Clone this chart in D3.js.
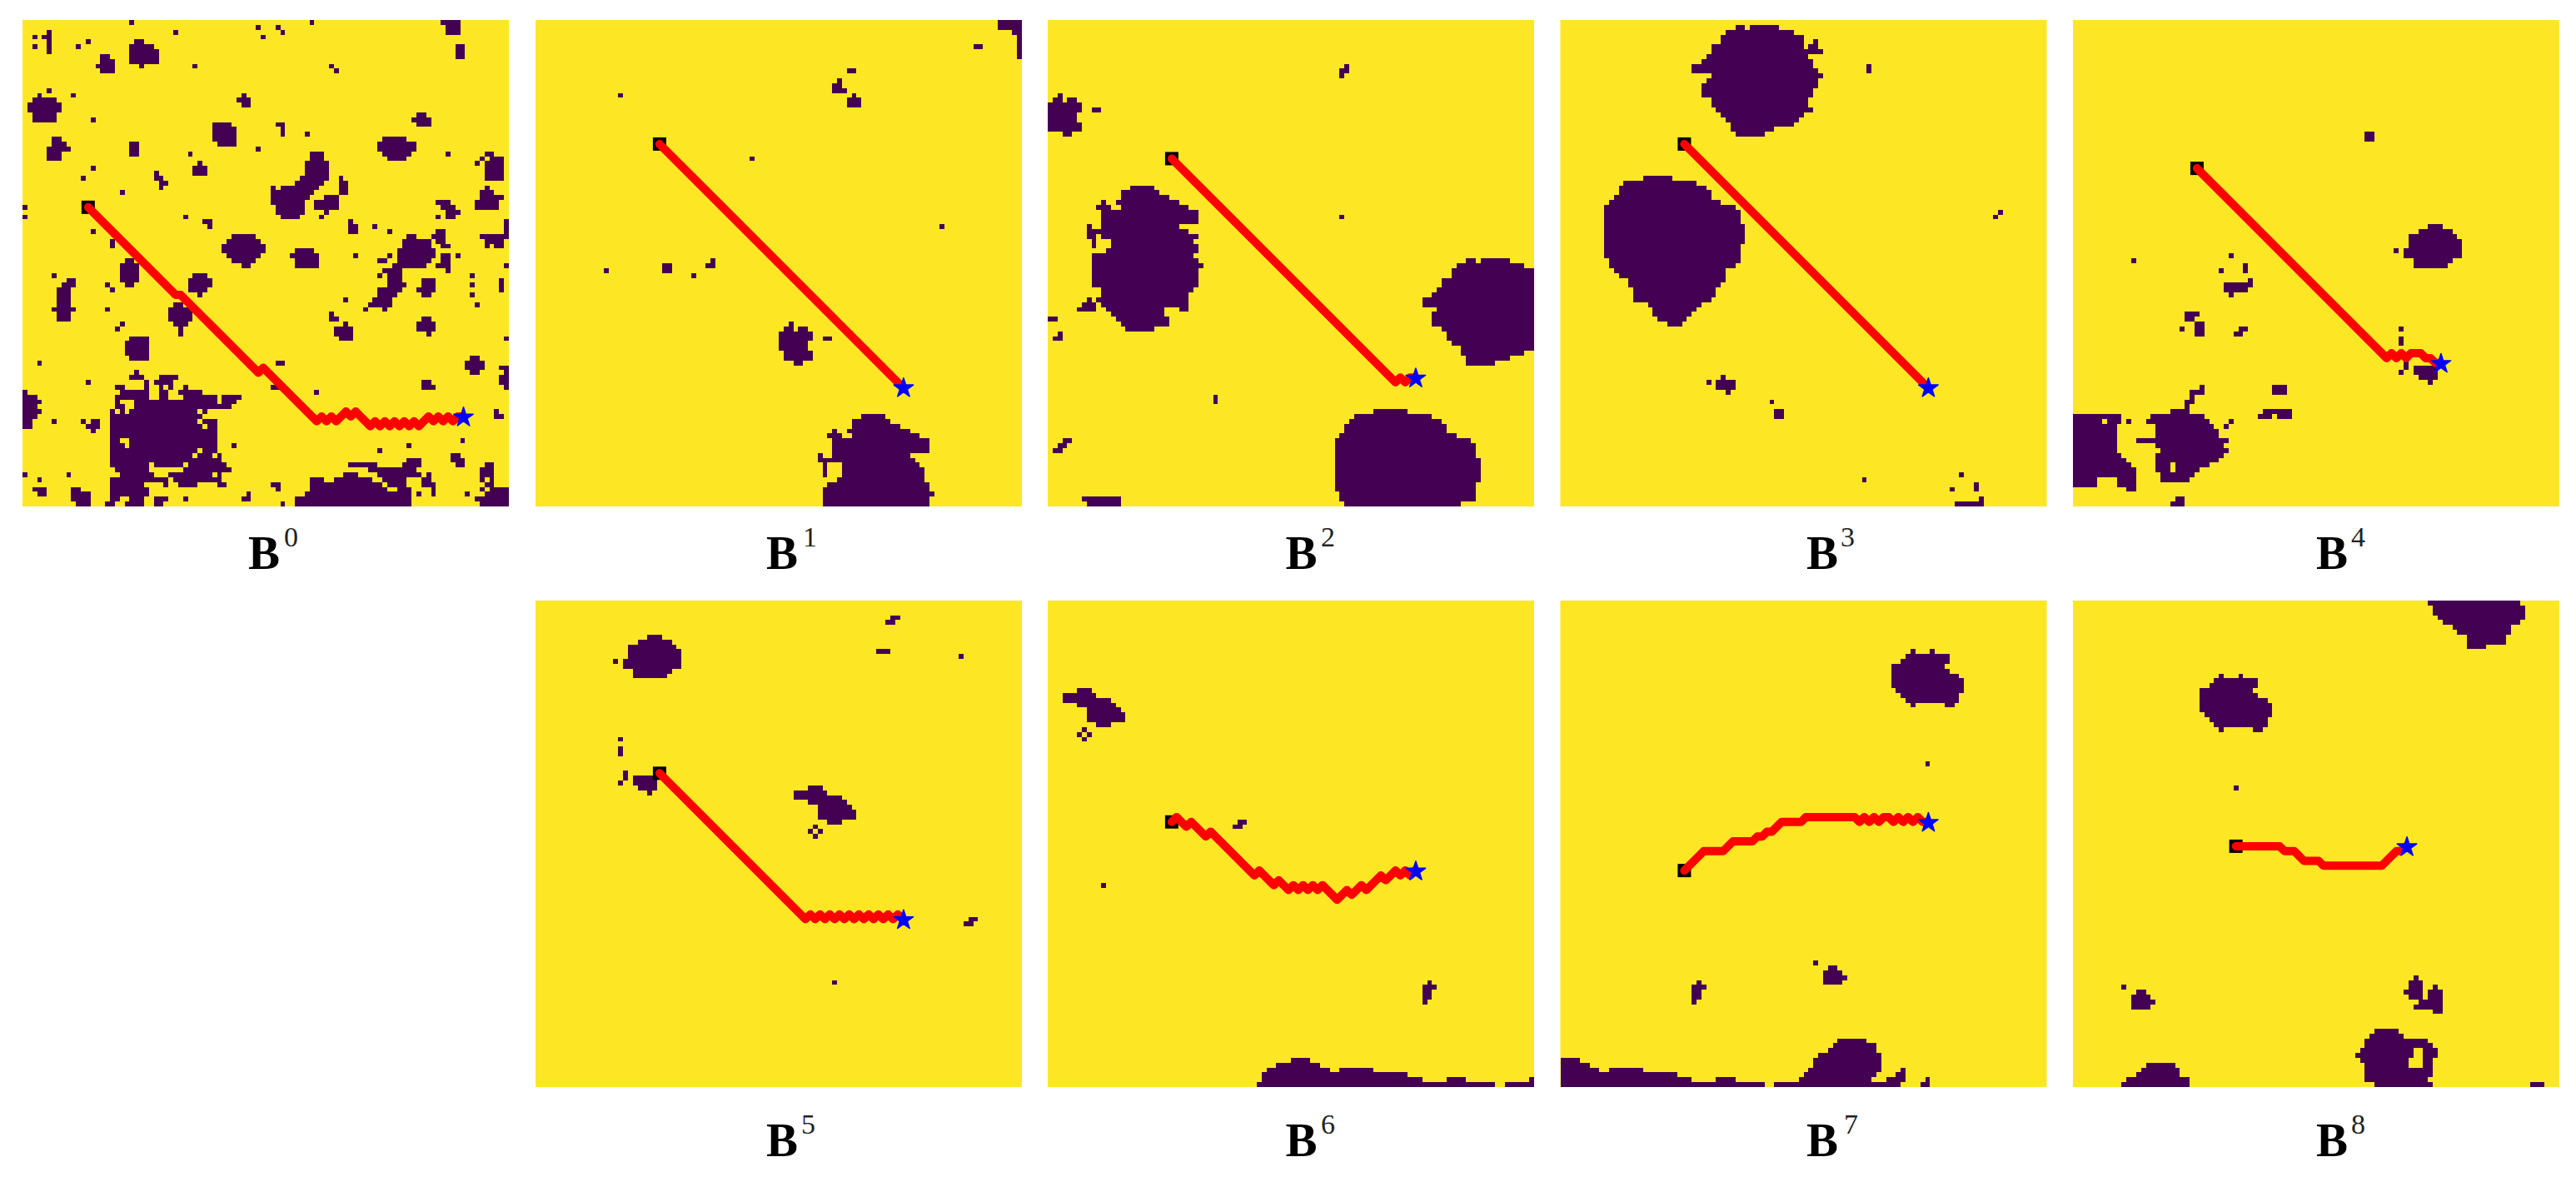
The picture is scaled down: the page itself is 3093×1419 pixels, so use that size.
<!DOCTYPE html>
<html><head><meta charset="utf-8">
<script src="https://cdn.jsdelivr.net/npm/d3@7"></script>
<style>html,body{margin:0;padding:0;background:#fff}svg{display:block}</style>
</head><body><svg id="c" width="3093" height="1419"></svg>
<script>
// Obstacle cells: [row, firstCol, lastCol] on a 100 x 100 grid. Route: [col, row].
const runsB0 = [
[0,22,22],[2,31,31],[1,48,48],[3,49,49],[1,52,52],[2,53,53],[0,59,59],[0,86,89],[1,87,89],[2,87,89],[5,89,90],[6,89,90],[7,89,90],
[3,2,2],[5,2,2],[2,5,5],[3,5,5],[4,5,5],[5,5,5],[6,5,5],[3,4,4],[5,11,11],[4,13,13],
[4,23,24],[5,22,26],[6,22,27],[7,22,27],[8,22,27],[9,24,24],[7,16,17],[8,16,18],[9,15,18],[10,16,18],
[9,35,35],[9,63,63],[10,64,64],[14,5,5],[15,10,10],[15,45,45],[16,44,46],[17,45,46],
[15,3,3],[16,2,6],[17,1,7],[18,1,7],[19,2,6],[20,2,6],[20,14,14],
[21,39,42],[22,39,43],[23,39,43],[24,39,43],[25,40,43],[24,6,7],[25,6,8],[26,5,9],[27,5,7],[28,5,7],
[25,22,23],[26,22,23],[27,22,23],[23,58,58],[26,48,48],[27,34,34],[29,36,36],[30,35,37],[31,35,37],
[30,14,14],[32,12,12],[31,27,27],[32,27,28],[33,28,29],[34,28,28],[35,20,20],
[38,0,0],[40,0,0],[40,33,33],[41,37,38],[42,38,38],[43,14,14],
[21,52,53],[22,53,53],[23,53,53],[19,81,82],[20,80,83],[21,81,83],[23,58,58],
[24,74,78],[25,73,80],[26,73,80],[27,74,79],[28,75,78],[27,87,87],
[27,95,96],[28,94,94],[28,96,98],[29,93,93],[29,95,98],[30,95,98],[31,95,98],[32,95,98],
[27,59,61],[28,59,61],[29,58,62],[30,58,62],[31,58,62],[32,57,62],[33,56,61],[34,51,51],[34,53,60],[35,51,59],[36,51,58],[37,51,57],[38,52,57],[39,52,57],[40,53,56],
[32,65,65],[33,65,66],[34,65,66],[35,65,66],[36,62,64],[37,60,64],[38,60,64],[39,62,62],[40,61,61],
[37,85,87],[38,86,88],[39,87,89],[40,87,88],[40,85,85],
[34,95,95],[35,94,96],[36,94,98],[37,93,97],[38,93,97],
[41,67,67],[42,67,68],[43,67,68],[42,72,72],[43,75,75],
[41,99,99],[42,99,99],[43,99,99],[44,94,99],[45,95,98],[46,95,95],[46,97,98],
[44,79,80],[45,78,83],[46,78,83],[47,77,84],[48,77,84],[49,77,83],[50,76,82],[51,74,77],[52,75,77],[52,73,73],[53,75,77],[54,75,78],[55,73,77],[56,73,76],[57,72,75],[58,71,75],[59,74,74],[59,70,70],
[49,73,74],[48,75,75],[43,85,86],[44,84,86],[45,85,86],[46,86,87],[48,86,87],[49,86,87],[50,85,87],[51,87,87],[48,89,89],[50,99,99],
[52,92,92],[54,92,92],[56,92,92],[58,93,93],[53,98,98],[54,98,98],[55,98,98],
[53,82,84],[54,82,84],[55,81,84],[56,82,83],[57,66,66],[60,63,63],[61,63,64],[62,66,66],[63,64,67],[64,64,67],[65,65,67],
[61,82,83],[62,81,84],[63,81,84],[64,83,83],
[47,56,59],[48,55,60],[49,56,60],[50,56,60],[48,68,68],
[44,43,47],[45,42,48],[46,41,49],[47,41,49],[48,42,48],[49,43,47],[50,45,46],
[45,18,18],[46,18,18],[49,21,22],[50,20,23],[51,20,23],[52,20,23],[53,20,23],[54,21,22],[52,6,6],
[53,9,10],[54,8,10],[55,7,9],[56,7,9],[57,7,9],[58,7,9],[59,6,10],[60,7,9],[61,7,9],[54,17,17],[55,18,18],[59,17,17],
[52,35,37],[53,34,38],[54,34,38],[55,34,37],[56,36,36],[58,31,32],[59,30,34],[60,30,34],[61,30,34],[62,31,33],[63,32,32],[62,20,20],[63,19,19],
[64,32,32],[65,22,25],[66,21,25],[67,21,25],[68,21,25],[69,22,25],[70,3,3],[74,13,13],
[72,23,23],[73,22,24],[73,28,31],[74,25,25],[74,27,30],[75,19,20],[75,25,25],[75,28,28],[75,30,30],[75,33,33],
[76,20,25],[76,28,29],[76,32,36],[77,19,25],[77,28,29],[77,33,39],[77,41,44],[78,19,19],[78,23,39],[78,41,43],[79,19,20],[79,23,42],
[80,18,18],[80,20,20],[80,22,35],[80,37,37],[81,18,36],[82,18,35],[82,37,39],[83,18,36],[83,38,39],[84,18,39],[85,18,39],
[86,18,19],[86,22,39],[87,18,20],[87,22,39],[88,18,35],[88,37,39],[89,18,34],[89,36,38],[89,40,40],[90,18,40],
[91,18,25],[91,27,32],[91,34,41],[92,19,25],[92,33,42],[93,20,26],[93,30,38],[93,40,40],[94,18,29],[94,31,40],
[95,18,24],[95,29,29],[95,32,35],[95,40,41],[96,18,25],[97,18,25],[98,18,19],[98,22,24],[98,27,29],[99,17,18],[99,21,24],[99,27,28],
[76,0,0],[77,0,2],[78,0,3],[79,0,2],[80,0,3],[81,0,2],[82,0,1],[83,0,1],[82,6,6],[82,12,12],[82,14,15],[83,13,15],[84,14,14],
[93,9,9],[93,0,0],[94,3,3],[96,2,4],[97,3,4],[96,10,11],[97,10,13],[98,10,13],[99,11,13],[98,33,33],[97,46,46],[98,45,46],[87,43,43],
[70,52,53],[75,51,52],[76,60,60],[65,99,99],[69,92,93],[70,91,94],[71,91,94],[72,92,93],[71,98,99],[72,99,99],[73,98,99],[74,98,99],[75,99,99],
[74,82,83],[75,82,84],[80,97,97],[81,97,98],[86,90,90],[87,79,79],[88,73,73],[89,88,89],[90,88,90],[91,89,90],
[90,79,81],[91,67,72],[91,78,81],[92,71,80],[93,66,68],[93,73,81],[94,59,61],[94,64,71],[94,74,78],[95,59,73],[95,75,78],[96,59,74],[96,77,79],[97,58,79],[98,56,79],[99,56,79],
[93,83,83],[94,82,83],[95,82,84],[96,84,84],[97,84,84],[95,51,52],[96,52,52],[97,81,81],[97,91,91],[99,53,53],
[91,95,96],[92,94,96],[93,94,96],[94,94,94],[94,96,96],[95,95,96],[96,94,94],[96,96,99],[97,95,99],[98,93,99],[99,94,99]
];
const runsB1 = [
[0,95,99],[1,95,99],[2,98,99],[3,99,99],[4,99,99],[5,99,99],[6,99,99],[7,99,99],[5,90,91],[10,64,65],[12,62,62],[13,61,62],[14,61,63],[15,65,65],[16,64,66],[17,64,66],
[15,17,17],[28,44,44],[42,83,83],[51,14,14],[50,26,27],[51,26,27],[52,32,32],[49,36,36],[50,35,36],
[62,52,52],[63,51,52],[63,54,55],[64,50,56],[65,50,56],[66,50,55],[67,50,55],[68,51,56],[69,51,56],[70,53,54],[65,59,60],
[81,67,71],[82,65,72],[83,65,74],[84,61,61],[84,64,76],[85,60,62],[85,65,78],[86,61,80],[87,61,80],[88,61,80],[89,58,58],[89,61,76],[90,58,77],
[91,59,59],[91,63,78],[92,59,59],[92,63,79],[93,59,59],[93,63,79],[94,62,79],[95,60,80],[96,59,80],[97,59,81],[98,59,80],[99,59,80]
];
const runsB2 = [
[15,2,2],[16,1,2],[16,4,5],[17,0,6],[18,0,6],[19,0,5],[20,0,5],[21,0,6],[22,0,6],[23,3,4],[18,9,10],
[9,61,61],[10,60,61],[11,60,60],[40,60,60],
[34,17,21],[35,15,22],[36,15,24],[37,11,11],[37,14,26],[38,10,12],[38,15,28],[39,11,30],[40,11,30],[41,11,30],[42,8,8],[42,11,26],[43,8,28],[44,8,9],[44,11,30],[45,9,9],[45,13,29],[46,9,9],[46,13,30],[47,12,30],[48,9,29],[49,9,30],[50,9,31],[51,9,30],[52,9,30],[53,9,30],[54,9,30],[55,11,29],[56,11,28],[57,8,8],[57,10,28],[58,7,9],[58,11,28],[59,6,9],[59,12,23],[59,27,28],[60,13,23],[61,14,24],[62,15,24],[63,16,21],
[61,0,1],[64,2,2],[65,1,2],[77,34,34],[78,34,34],[86,3,4],[87,2,3],[88,1,2],[98,7,14],[99,8,14],
[49,86,87],[49,89,94],[50,84,95],[50,96,97],[51,83,99],[52,83,99],[53,81,99],[54,81,99],[55,80,99],[56,79,99],[57,77,99],[58,77,99],[59,80,99],[60,79,99],[61,79,99],[62,79,99],[63,81,99],[64,82,99],[65,82,99],[66,83,99],[67,85,99],[68,85,97],[69,86,94],[70,86,91],
[80,67,73],[81,63,78],[82,62,80],[83,61,81],[84,61,81],[85,60,83],[86,59,86],[87,59,87],[88,59,87],[89,59,87],[90,59,88],[91,59,88],[92,59,88],[93,59,88],[94,59,88],[95,59,87],[96,59,87],[97,60,87],[98,60,87],[99,61,84]
];
const runsB3 = [
[1,36,37],[1,39,44],[2,34,47],[3,33,49],[4,33,49],[4,52,52],[5,31,49],[5,51,52],[6,31,53],[7,30,50],[8,29,51],[9,27,51],[10,27,52],[11,31,53],[12,30,52],[13,29,52],[14,29,51],[15,29,51],[16,31,50],[17,31,50],[18,32,51],[19,33,49],[20,34,48],[21,35,47],[22,35,43],[23,36,41],
[32,17,22],[33,13,27],[34,12,29],[35,12,30],[36,11,30],[37,10,32],[38,9,35],[39,9,36],[40,9,36],[41,9,36],[42,9,37],[43,9,37],[44,9,37],[45,9,37],[46,9,36],[47,9,36],[48,9,36],[49,10,36],[50,10,35],[51,11,33],[52,12,33],[53,14,33],[54,14,32],[55,15,31],[56,15,31],[57,15,30],[58,18,28],[59,19,27],[60,19,26],[61,20,25],[62,22,24],
[9,63,63],[10,63,63],[39,90,90],[40,89,89],[74,30,30],[73,33,33],[74,32,35],[75,32,35],[76,34,34],[78,43,43],[80,44,45],[81,44,45],[94,62,62],[93,82,82],[96,80,80],[95,85,85],[96,85,85],[98,86,86],[99,81,86]
];
const runsB4 = [
[23,60,61],[24,60,61],[42,73,75],[43,71,77],[44,69,78],[45,69,79],[46,69,79],[47,68,79],[48,68,79],[49,70,77],[50,70,76],[47,66,66],
[49,12,12],[48,32,32],[51,30,30],[50,35,35],[51,35,35],[53,36,36],[54,31,36],[55,31,35],[56,32,32],
[60,23,25],[61,23,24],[62,25,26],[63,25,26],[64,25,26],[63,22,22],[63,34,35],[64,33,34],
[63,67,67],[65,67,67],[66,67,67],[70,68,68],[71,68,68],[72,67,67],[71,70,74],[72,70,74],[73,71,74],[74,73,73],
[75,41,43],[76,41,43],[80,39,44],[81,38,40],[81,42,44],
[75,26,26],[76,24,26],[77,24,24],[78,23,24],[79,23,23],[80,20,23],[81,16,26],[82,15,27],[83,17,28],[84,17,29],[85,17,29],[86,13,31],[87,17,30],[88,18,31],[89,17,30],[90,17,29],[91,17,19],[91,21,27],[92,17,19],[92,21,25],[93,18,24],[94,18,23],
[98,21,22],[99,20,22],[82,11,11],[82,32,32],[83,31,31],
[81,0,9],[82,0,5],[82,7,9],[83,0,8],[84,0,8],[85,0,8],[86,0,8],[87,0,8],[88,0,8],[89,0,9],[90,0,10],[91,0,11],[92,0,12],[93,0,12],[94,0,4],[94,9,12],[95,0,4],[95,9,12],[96,11,12]
];
const runsB5 = [
[3,73,74],[4,72,73],[10,70,72],[11,87,87],[7,23,25],[8,21,27],[9,19,28],[10,19,29],[11,19,29],[12,18,29],[13,18,29],[14,20,27],[15,20,26],[12,16,16],
[28,17,17],[30,17,17],[31,17,17],[35,18,18],[36,18,18],[37,17,17],[36,20,24],[37,20,24],[38,21,24],[39,23,23],
[38,56,58],[39,53,59],[40,53,62],[41,56,63],[42,58,64],[43,58,65],[44,58,65],[45,60,62],[46,57,57],[47,56,56],[47,58,58],[48,57,57],[65,89,90],[66,88,89],[78,61,61]
];
const runsB6 = [
[18,6,8],[19,3,9],[20,3,12],[21,6,13],[22,8,14],[23,8,15],[24,8,15],[25,10,12],[26,7,7],[27,6,6],[27,8,8],[28,7,7],[45,39,40],[46,38,39],[58,11,11],
[78,78,78],[79,77,79],[80,77,78],[81,77,78],[82,77,77],
[94,50,53],[95,47,55],[96,45,57],[96,60,66],[97,44,73],[98,44,76],[98,82,85],[98,99,99],[99,43,91],[99,94,99]
];
const runsB7 = [
[10,72,72],[10,76,76],[11,71,79],[12,70,79],[13,68,78],[14,68,79],[15,68,81],[16,68,82],[17,68,82],[18,69,82],[19,70,81],[20,71,81],[21,72,72],[21,79,80],[33,75,75],
[74,52,52],[75,55,56],[76,54,57],[77,54,58],[78,54,57],[78,28,28],[79,27,29],[80,27,28],[81,27,28],[82,27,27],
[94,0,3],[95,0,5],[96,0,7],[96,10,16],[97,0,23],[98,0,26],[98,32,35],[99,0,41],[99,44,69],
[90,57,62],[91,56,64],[92,55,64],[93,53,65],[94,52,65],[95,52,65],[96,51,65],[96,70,70],[97,50,64],[97,69,70],[98,49,63],[98,67,70],[98,75,75],[99,74,75]
];
const runsB8 = [
[0,73,91],[1,74,92],[2,74,92],[3,75,92],[4,76,91],[5,78,89],[6,79,89],[7,81,88],[8,81,88],[9,81,84],
[15,30,30],[15,34,34],[16,29,37],[17,28,37],[18,26,36],[19,26,37],[20,26,39],[21,26,40],[22,26,40],[23,27,40],[24,28,39],[25,29,39],[26,30,30],[26,37,38],[38,33,33],
[79,10,10],[80,13,14],[81,12,15],[82,12,16],[83,12,15],
[77,70,70],[78,69,71],[79,69,71],[79,74,74],[80,68,71],[80,73,75],[81,69,71],[81,73,75],[82,71,75],[83,70,75],[84,74,75],
[88,62,66],[89,61,67],[90,60,72],[91,60,73],[92,59,69],[92,72,74],[93,58,69],[93,72,74],[94,59,68],[94,72,73],[95,60,68],[95,72,73],[96,60,73],[97,60,73],[98,60,72],[99,62,73],
[95,15,20],[96,14,21],[97,13,21],[98,11,23],[99,10,23],[99,94,96]
];

const routeB0 = [[13,38],[31,56],[32,56],[48,72],[49,71],[60,82],[61,81],[62,82],[63,81],[64,82],[65,81],[66,80],[67,81],[68,80],[69,81],[70,82],[71,83],[72,82],[73,83],[74,82],[75,83],[76,82],[77,83],[78,82],[79,83],[80,82],[81,83],[82,82],[83,81],[84,82],[85,81],[86,82],[87,81],[88,82],[89,81],[90,81]];
const routeB1 = [[25,25],[75,75]];
const routeB2 = [[25,28],[71,74],[72,73],[73,74],[74,73],[75,73]];
const routeB3 = [[25,25],[75,75]];
const routeB4 = [[25,30],[64,69],[65,68],[66,69],[67,68],[68,69],[69,68],[71,68],[72,69],[73,69],[74,70],[75,70]];
const routeB5 = [[25,35],[55,65],[56,64],[57,65],[58,64],[59,65],[60,64],[61,65],[62,64],[63,65],[64,64],[65,65],[66,64],[67,65],[68,64],[69,65],[70,64],[71,65],[72,64],[73,65],[74,64],[75,65]];
const routeB6 = [[25,45],[26,44],[27,45],[28,46],[29,45],[30,46],[32,48],[33,47],[34,48],[42,56],[43,55],[46,58],[47,57],[49,59],[50,58],[51,59],[52,58],[53,59],[54,58],[55,59],[56,58],[59,61],[61,59],[62,60],[64,58],[65,59],[68,56],[69,57],[71,55],[72,56],[73,55],[74,56],[75,55]];
const routeB7 = [[25,55],[29,51],[33,51],[35,49],[39,49],[40,48],[41,48],[42,47],[43,47],[45,45],[49,45],[50,44],[60,44],[61,45],[62,44],[63,45],[64,44],[65,45],[66,44],[67,44],[68,45],[69,44],[70,45],[71,44],[72,45],[73,44],[74,45],[75,45]];
const routeB8 = [[33,50],[42,50],[43,51],[45,51],[47,53],[50,53],[51,54],[63,54],[66,51],[67,51],[68,50]];

const superscripts = ["0","1","2","3","4","5","6","7","8"];
const allRuns = [runsB0,runsB1,runsB2,runsB3,runsB4,runsB5,runsB6,runsB7,runsB8];
const allRoutes = [routeB0,routeB1,routeB2,routeB3,routeB4,routeB5,routeB6,routeB7,routeB8];

// Layout (kept apart from the data)
const SIZE = 584;
const slotX = [27,643,1258,1873.5,2489];
const slotY = [24,721];
const panelSlot = [[0,0],[1,0],[2,0],[3,0],[4,0],[1,1],[2,1],[3,1],[4,1]];
const labelLeft = [298,920,1543.5,2169,2781,920,1543.5,2169,2781];
const supLeft = [341,964,1586,2210,2823,962,1586,2214,2823];
const labelBase = [683,1388];
const supBase = [656,1361];

const svg = d3.select("#c");
const x = d3.scaleLinear().domain([0,100]).range([0,SIZE]);
const y = d3.scaleLinear().domain([0,100]).range([0,SIZE]);
const line = d3.line().x(d=>x(d[0]+.5)).y(d=>y(d[1]+.5));
const square = d3.symbol().type(d3.symbolSquare).size(256);
const star = d3.symbol().type(d3.symbolStar).size(170);

superscripts.forEach((s,i)=>{
  const [cx,cy] = panelSlot[i];
  const g = svg.append("g").attr("transform",`translate(${slotX[cx]},${slotY[cy]})`);
  g.append("rect").attr("width",SIZE).attr("height",SIZE).attr("fill","#fde725");
  g.append("g").attr("shape-rendering","crispEdges").attr("fill","#440154")
    .selectAll("rect").data(allRuns[i]).join("rect")
    .attr("x",d=>x(d[1])).attr("y",d=>y(d[0]))
    .attr("width",d=>x(d[2]+1)-x(d[1])).attr("height",d=>y(d[0]+1)-y(d[0]));
  const route = allRoutes[i];
  const first = route[0], last = route[route.length-1];
  g.append("path").attr("d",square())
    .attr("transform",`translate(${x(first[0]+.5)},${y(first[1]+.5)})`).attr("fill","#000");
  g.append("path").attr("d",line(route)).attr("fill","none").attr("stroke","#ff0000")
    .attr("stroke-width",10).attr("stroke-linejoin","round").attr("stroke-linecap","round");
  g.append("path").attr("d",star())
    .attr("transform",`translate(${x(last[0]+.5)+1},${y(last[1]+.5)+1})`)
    .attr("fill","#0000ff").attr("stroke","#0000ff").attr("stroke-width",1.5).attr("stroke-linejoin","round");
  svg.append("text").attr("x",labelLeft[i]).attr("y",labelBase[cy])
    .attr("font-family","'Liberation Serif'").attr("font-weight","bold").attr("font-size",57).attr("fill","#000").text("B");
  svg.append("text").attr("x",supLeft[i]).attr("y",supBase[cy])
    .attr("font-family","'Liberation Serif'").attr("font-size",34).attr("fill","#222").text(s);
});
</script></body></html>
